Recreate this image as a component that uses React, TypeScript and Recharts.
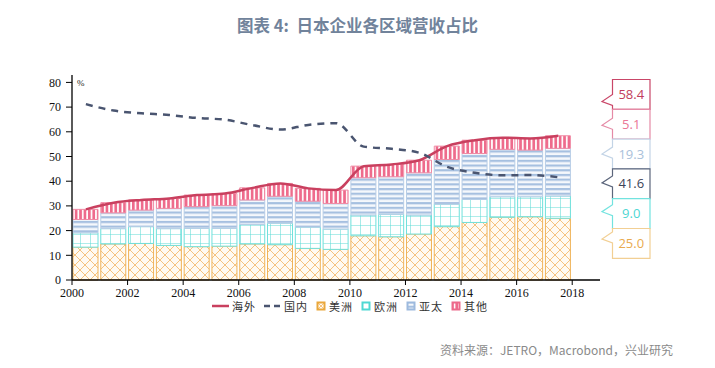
import { ComposedChart, Bar, Line, XAxis, YAxis } from "recharts";

const years = [2001, 2002, 2003, 2004, 2005, 2006, 2007, 2008, 2009, 2010, 2011, 2012, 2013, 2014, 2015, 2016, 2017, 2018];
const america = [13.3, 14.6, 14.8, 14.0, 13.5, 13.7, 14.6, 14.3, 12.8, 12.4, 17.9, 17.5, 18.6, 21.6, 23.3, 25.4, 25.6, 25.0];
const europe = [5.8, 6.2, 6.8, 6.8, 7.4, 7.2, 7.9, 8.7, 8.6, 8.2, 8.4, 9.1, 7.7, 9.1, 9.3, 8.3, 8.1, 9.0];
const asia = [5.4, 6.4, 6.7, 8.2, 8.8, 9.2, 9.9, 10.9, 10.5, 10.4, 15.1, 15.2, 17.1, 18.1, 18.6, 19.2, 18.9, 19.3];
const other = [4.1, 4.1, 4.1, 4.0, 4.7, 4.9, 4.9, 5.2, 5.2, 5.4, 4.7, 5.0, 5.1, 5.4, 5.4, 4.7, 4.7, 5.1];
const overseas = [28.6, 31.3, 32.4, 33.0, 34.4, 35.0, 37.3, 39.1, 37.1, 36.4, 46.1, 46.8, 48.5, 54.2, 56.6, 57.6, 57.3, 58.4];
const domestic = [71.2, 68.6, 67.5, 66.8, 65.6, 64.9, 62.7, 60.9, 62.8, 63.5, 54.0, 53.1, 51.5, 45.8, 43.4, 42.4, 42.5, 41.6];

const xTicks = [2000, 2002, 2004, 2006, 2008, 2010, 2012, 2014, 2016, 2018];
const yTicks = [0, 10, 20, 30, 40, 50, 60, 70, 80];

// bars sit in the interval before each year mark
const data = years.map((y, i) => ({
  x: y - 0.5,
  america: america[i],
  europe: europe[i],
  asia: asia[i],
  other: other[i],
  overseas: overseas[i],
  domestic: domestic[i],
}));

const last = years.length - 1;
const callouts = [
  { value: overseas[last], border: "#c94668", text: "#c23d5c" },
  { value: other[last], border: "#e58aa6", text: "#ea7797" },
  { value: asia[last], border: "#c3d4e6", text: "#a9c1da" },
  { value: domestic[last], border: "#5c667c", text: "#3d4558" },
  { value: europe[last], border: "#72e3df", text: "#4dd6d2" },
  { value: america[last], border: "#f2cf93", text: "#e9aa4f" },
];
const tipOffsets = [22, 16, 15, 14, 13, 10.5];

const tickStyle = { fontSize: 12, fill: "#111", fontFamily: "'Liberation Serif', 'Times New Roman', serif" };

const Patterns = () => (
  <svg width={0} height={0} style={{ position: "absolute" }}>
    <defs>
      <pattern id="pAmerica" patternUnits="userSpaceOnUse" width={10} height={10}>
        <rect width={10} height={10} fill="#fffaf2" />
        <path d="M0,0 L10,10 M10,0 L0,10" stroke="#f4bd73" strokeWidth={0.9} />
      </pattern>
      <pattern id="pEurope" patternUnits="userSpaceOnUse" width={10} height={9}>
        <rect width={10} height={9} fill="#ffffff" />
        <path d="M0,0 L10,0 M0,0 L0,9" stroke="#5fdbd6" strokeWidth={1.1} />
      </pattern>
      <pattern id="pAsia" patternUnits="userSpaceOnUse" width={6} height={4.7}>
        <rect width={6} height={4.7} fill="#f5f8fc" />
        <rect width={6} height={2.2} fill="#a6c0e0" />
      </pattern>
      <pattern id="pOther" patternUnits="userSpaceOnUse" width={4.4} height={6}>
        <rect width={4.4} height={6} fill="#ffffff" />
        <rect width={2.7} height={6} fill="#ee6b8c" />
      </pattern>
    </defs>
  </svg>
);

const legendItems = [
  { name: "海外", kind: "line", color: "#c9405f" },
  { name: "国内", kind: "dash", color: "#4a5570" },
  { name: "美洲", kind: "box", color: "#eaa83c", fill: "pAmerica" },
  { name: "欧洲", kind: "box", color: "#4fd8d3", fill: "pEurope" },
  { name: "亚太", kind: "box", color: "#9dbade", fill: "pAsia" },
  { name: "其他", kind: "box", color: "#ec6a8b", fill: "pOther" },
];

const ChartLegend = () => (
  <div style={{ position: "absolute", left: 212, top: 298, display: "flex", alignItems: "center", gap: 8 }}>
    {legendItems.map((it) => (
      <div key={it.name} style={{ display: "flex", alignItems: "center", gap: 3 }}>
        {it.kind === "box" ? (
          <svg width={10} height={10}>
            <rect x={0.5} y={0.5} width={9} height={9} fill={it.color} />
            <rect x={2.5} y={2.5} width={5} height={5} fill={`url(#${it.fill})`} />
          </svg>
        ) : (
          <svg width={17} height={10}>
            <line x1={0} x2={17} y1={5} y2={5} stroke={it.color} strokeWidth={2.5}
              strokeDasharray={it.kind === "dash" ? "6 4" : undefined} />
          </svg>
        )}
        <span style={{ fontSize: 11, letterSpacing: 1, color: "#333", fontFamily: "'Noto Sans CJK SC', sans-serif" }}>
          {it.name}
        </span>
      </div>
    ))}
  </div>
);

const Callouts = () => {
  const left = 612.5;
  const right = 650;
  const top0 = 79.5;
  const h = 29.8;
  return (
    <svg width={715} height={368} style={{ position: "absolute", left: 0, top: 0, pointerEvents: "none" }}>
      <text x={77} y={86} fontSize={9} fill="#222" fontFamily="'Liberation Serif', serif">%</text>
      {callouts.map((c, i) => {
        const top = top0 + i * h;
        const tip = top + tipOffsets[i];
        const path = `M${left},${top} L${right},${top} L${right},${top + h} L${left},${top + h} L${left},${tip + 4} L${left - 10.5},${tip} L${left},${tip - 7} Z`;
        return (
          <g key={i}>
            <path d={path} fill="#fff" stroke={c.border} strokeWidth={1.2} />
            <text x={(left + right) / 2} y={top + h / 2 + 4.5} textAnchor="middle" fontSize={13}
              fill={c.text} fontFamily="'Open Sans', 'Noto Sans', sans-serif">
              {c.value.toFixed(1)}
            </text>
          </g>
        );
      })}
    </svg>
  );
};

const App = () => {
  return (
    <div style={{ position: "relative", width: 715, height: 368, background: "#fff" }}>
      <style>{`body{margin:0}`}</style>
      <Patterns />
      <div style={{ position: "absolute", left: 0, top: 13, width: 715, textAlign: "center", fontSize: 16.5, fontWeight: 700,
        color: "#71839b", fontFamily: "'Noto Sans CJK SC', sans-serif" }}>
        图表 4:&nbsp;&nbsp;日本企业各区域营收占比
      </div>
      <div style={{ position: "absolute", left: 0, top: 0 }}>
        <ComposedChart width={715} height={368} data={data} margin={{ top: 75, right: 115, left: 32, bottom: 0 }}>
          <XAxis
            dataKey="x"
            type="number"
            domain={[2000, 2019]}
            ticks={xTicks}
            tick={tickStyle}
            tickSize={5}
            tickMargin={3}
            height={88}
            axisLine={{ stroke: "#000", strokeWidth: 1.3 }}
            tickLine={{ stroke: "#000" }}
            interval={0}
          />
          <YAxis
            type="number"
            domain={[0, 83]}
            ticks={yTicks}
            tick={tickStyle}
            tickSize={6}
            tickMargin={5}
            width={40}
            axisLine={{ stroke: "#000", strokeWidth: 1.3 }}
            tickLine={{ stroke: "#000" }}
            interval={0}
          />
          <Bar dataKey="america" stackId="s" barSize={25} fill="url(#pAmerica)" stroke="#efb257" strokeWidth={1} isAnimationActive={false} />
          <Bar dataKey="europe" stackId="s" barSize={25} fill="url(#pEurope)" stroke="#6fe0db" strokeWidth={1} isAnimationActive={false} />
          <Bar dataKey="asia" stackId="s" barSize={25} fill="url(#pAsia)" stroke="#b7cde6" strokeWidth={1} isAnimationActive={false} />
          <Bar dataKey="other" stackId="s" barSize={25} fill="url(#pOther)" stroke="#f08aa4" strokeWidth={1} isAnimationActive={false} />
          <Line dataKey="overseas" type="monotone" stroke="#c9405f" strokeWidth={2.5} dot={false} isAnimationActive={false} />
          <Line dataKey="domestic" type="monotone" stroke="#4a5570" strokeWidth={2.5} strokeDasharray="7 6" dot={false} isAnimationActive={false} />
        </ComposedChart>
      </div>
      <Callouts />
      <ChartLegend />
      <div style={{ position: "absolute", right: 42, top: 341, fontSize: 12, color: "#8a8a8a", fontFamily: "'Noto Sans CJK SC', sans-serif" }}>
        资料来源：JETRO，Macrobond，兴业研究
      </div>
    </div>
  );
};

export default App;
